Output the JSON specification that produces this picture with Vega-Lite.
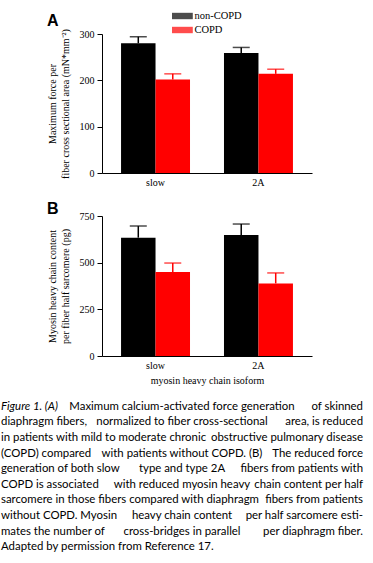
{
  "$schema": "https://vega.github.io/schema/vega-lite/v6.json",
  "background": "white",
  "padding": {"left": 1, "top": 8, "right": 0, "bottom": 0},
  "bounds": "flush",
  "center": true,
  "spacing": 43,
  "datasets": {
    "force": [
      {"isoform": "slow", "group": "non-COPD", "value": 280, "upper": 294},
      {"isoform": "slow", "group": "COPD", "value": 202, "upper": 214},
      {"isoform": "2A", "group": "non-COPD", "value": 259, "upper": 271},
      {"isoform": "2A", "group": "COPD", "value": 214, "upper": 224}
    ],
    "myosin": [
      {"isoform": "slow", "group": "non-COPD", "value": 634, "upper": 696},
      {"isoform": "slow", "group": "COPD", "value": 450, "upper": 498},
      {"isoform": "2A", "group": "non-COPD", "value": 648, "upper": 707},
      {"isoform": "2A", "group": "COPD", "value": 389, "upper": 445}
    ],
    "caption": [
      {"line": 1, "side": "left", "text": "Figure 1.  (A)"},
      {"line": 1, "side": "mid", "text": "Maximum calcium-activated force generation"},
      {"line": 1, "side": "right", "text": "of skinned"},
      {"line": 2, "side": "left", "text": "diaphragm fibers,"},
      {"line": 2, "side": "mid", "text": "normalized to fiber cross-sectional"},
      {"line": 2, "side": "right", "text": "area, is reduced"},
      {"line": 3, "side": "left", "text": "in patients with mild to moderate chronic"},
      {"line": 3, "side": "right", "text": "obstructive pulmonary disease"},
      {"line": 4, "side": "left", "text": "(COPD) compared"},
      {"line": 4, "side": "mid", "text": "with patients without COPD. (B)"},
      {"line": 4, "side": "right", "text": "The reduced force"},
      {"line": 5, "side": "left", "text": "generation of both slow"},
      {"line": 5, "side": "mid", "text": "type and type 2A"},
      {"line": 5, "side": "right", "text": "fibers from patients with"},
      {"line": 6, "side": "left", "text": "COPD is associated"},
      {"line": 6, "side": "mid", "text": "with reduced myosin heavy"},
      {"line": 6, "side": "right", "text": "chain content per half"},
      {"line": 7, "side": "left", "text": "sarcomere in those fibers compared with diaphragm"},
      {"line": 7, "side": "right", "text": "fibers from patients"},
      {"line": 8, "side": "left", "text": "without COPD. Myosin"},
      {"line": 8, "side": "mid", "text": "heavy chain content"},
      {"line": 8, "side": "right", "text": "per half sarcomere esti-"},
      {"line": 9, "side": "left", "text": "mates the number of"},
      {"line": 9, "side": "mid", "text": "cross-bridges in parallel"},
      {"line": 9, "side": "right", "text": "per diaphragm fiber."},
      {"line": 10, "side": "left", "text": "Adapted by permission from Reference 17."}
    ]
  },
  "config": {
    "view": {"stroke": null},
    "axis": {
      "grid": false,
      "labelFont": "Liberation Serif",
      "titleFont": "Liberation Serif",
      "labelFontSize": 10,
      "titleFontSize": 10,
      "titleFontWeight": "normal",
      "labelColor": "black",
      "titleColor": "black",
      "domainColor": "black",
      "tickColor": "black",
      "domainWidth": 1
    },
    "legend": {
      "labelFont": "Liberation Serif",
      "labelFontSize": 10.5,
      "labelColor": "black"
    }
  },
  "vconcat": [
    {
      "width": 210,
      "height": 139,
      "data": {"name": "force"},
      "title": {"text": "A", "anchor": "start", "frame": "bounds", "font": "Liberation Sans", "fontSize": 16, "fontWeight": "bold", "color": "black", "offset": 0},
      "encoding": {
        "x": {"field": "isoform", "type": "nominal", "sort": ["slow", "2A"], "scale": {"paddingInner": 0.33, "paddingOuter": 0.185}, "axis": {"title": null, "labelAngle": 0, "ticks": false, "labelPadding": 4}},
        "xOffset": {"field": "group", "type": "nominal", "sort": ["non-COPD", "COPD"], "scale": {"paddingInner": 0, "paddingOuter": 0}},
        "y": {"field": "value", "type": "quantitative", "scale": {"domain": [0, 300]}, "axis": {"values": [0, 100, 200, 300], "tickSize": 5, "labelPadding": 3, "titlePadding": 9, "titleLineHeight": 13, "title": ["Maximum force per", "fiber cross sectional area (mN*mm⁻²)"]}},
        "color": {"field": "group", "type": "nominal", "scale": {"domain": ["non-COPD", "COPD"], "range": ["#000000", "#ff0000"]}, "legend": {"orient": "none", "legendX": 173.4, "legendY": -26, "title": null, "symbolType": "M-1.3,-0.4L1.3,-0.4L1.3,0.4L-1.3,0.4Z", "symbolSize": 256, "symbolStrokeWidth": 0, "rowPadding": 0, "labelOffset": 4, "padding": 0}}
      },
      "layer": [
        {"mark": {"type": "bar"}},
        {"mark": {"type": "rule", "strokeWidth": 1.5}, "encoding": {"y2": {"field": "upper"}}},
        {"mark": {"type": "tick", "thickness": 1.5, "size": 17}, "encoding": {"y": {"field": "upper", "type": "quantitative"}}}
      ]
    },
    {
      "width": 210,
      "height": 140,
      "data": {"name": "myosin"},
      "title": {"text": "B", "anchor": "start", "frame": "bounds", "font": "Liberation Sans", "fontSize": 16, "fontWeight": "bold", "color": "black", "offset": -6},
      "encoding": {
        "x": {"field": "isoform", "type": "nominal", "sort": ["slow", "2A"], "scale": {"paddingInner": 0.33, "paddingOuter": 0.185}, "axis": {"title": "myosin heavy chain isoform", "labelAngle": 0, "ticks": false, "labelPadding": 4, "titlePadding": 5}},
        "xOffset": {"field": "group", "type": "nominal", "sort": ["non-COPD", "COPD"], "scale": {"paddingInner": 0, "paddingOuter": 0}},
        "y": {"field": "value", "type": "quantitative", "scale": {"domain": [0, 750]}, "axis": {"values": [0, 250, 500, 750], "tickSize": 5, "labelPadding": 3, "titlePadding": 9, "titleLineHeight": 13, "title": ["Myosin heavy chain content", "per fiber half sarcomere (pg)"]}},
        "color": {"field": "group", "type": "nominal", "scale": {"domain": ["non-COPD", "COPD"], "range": ["#000000", "#ff0000"]}, "legend": null}
      },
      "layer": [
        {"mark": {"type": "bar"}},
        {"mark": {"type": "rule", "strokeWidth": 1.5}, "encoding": {"y2": {"field": "upper"}}},
        {"mark": {"type": "tick", "thickness": 1.5, "size": 17}, "encoding": {"y": {"field": "upper", "type": "quantitative"}}}
      ]
    },
    {
      "width": 412,
      "height": 155.9,
      "data": {"name": "caption"},
      "encoding": {
        "y": {"field": "line", "type": "ordinal", "axis": null, "scale": {"paddingInner": 0, "paddingOuter": 0.376}},
        "x": {"field": "side", "type": "nominal", "axis": null, "scale": {"type": "point", "padding": 0.1381, "align": 0, "domain": ["left", "mid", "right"]}},
        "text": {"field": "text"}
      },
      "layer": [
        {"transform": [{"filter": "datum.side === 'left' && datum.line !== 1"}], "mark": {"type": "text", "align": "left", "font": "Lato", "fontSize": 11.4, "color": "black"}},
        {"transform": [{"filter": "datum.side === 'left' && datum.line === 1"}], "mark": {"type": "text", "align": "left", "font": "Lato", "fontSize": 11.4, "fontStyle": "italic", "color": "black"}},
        {"transform": [{"filter": "datum.side === 'mid'"}], "mark": {"type": "text", "align": "center", "font": "Lato", "fontSize": 11.4, "color": "black"}},
        {"transform": [{"filter": "datum.side === 'right'"}], "mark": {"type": "text", "align": "right", "font": "Lato", "fontSize": 11.4, "color": "black"}}
      ]
    }
  ]
}
